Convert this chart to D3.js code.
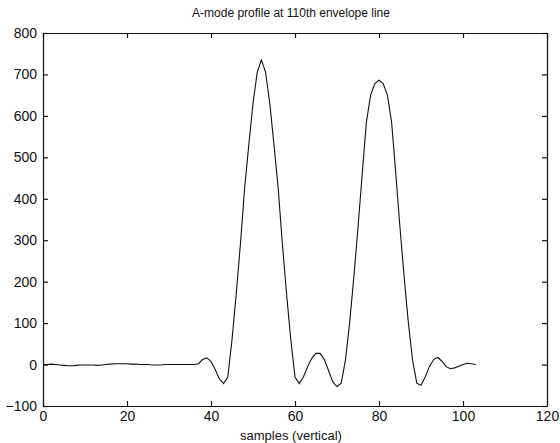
<!DOCTYPE html>
<html>
<head>
<meta charset="utf-8">
<script src="https://cdn.jsdelivr.net/npm/d3@7/dist/d3.min.js"></script>
<style>
  html, body { margin: 0; padding: 0; background: #fff; }
  svg { display: block; }
  text { font-family: "Liberation Sans", Arial, sans-serif; fill: #111; }
</style>
</head>
<body>
<svg id="chart" width="560" height="443"></svg>
<script>
const titleText = "A-mode profile at 110th envelope line";
const xLabelText = "samples (vertical)";
const xTicks = [0, 20, 40, 60, 80, 100, 120];
const yTicks = [-100, 0, 100, 200, 300, 400, 500, 600, 700, 800];
const sampleIndex = d3.range(0, 104);
const amplitude = [
  0, 0, 1, 0, -1, -2, -3, -3, -2, -1,
  -1, -1, -1, -2, -1, 0, 1, 2, 2, 2,
  2, 1, 1, 0, 0, 0, -1, -1, -1, 0,
  0, 0, 0, 0, 0, 0, 0, 2, 12, 16,
  8, -12, -35, -46, -30, 60, 170, 290, 425, 530,
  630, 705, 735, 705, 630, 530, 425, 290, 170, 60,
  -30, -46, -30, -5, 15, 27, 27, 12, -15, -42,
  -53, -45, 10, 100, 210, 330, 460, 585, 650, 678,
  686, 678, 650, 585, 460, 330, 210, 100, 10, -45,
  -50, -30, -5, 12, 17, 8, -5, -10, -8, -4,
  0, 3, 2, 0
];

const svg = d3.select("#chart");
const m = { left: 43, right: 547, top: 33, bottom: 406 };
const x = d3.scaleLinear().domain([0, 120]).range([m.left, m.right]);
const y = d3.scaleLinear().domain([-100, 800]).range([m.bottom, m.top]);

// curve
const line = d3.line().x((d, i) => x(sampleIndex[i])).y(d => y(d));
svg.append("path")
  .datum(amplitude)
  .attr("d", line)
  .attr("fill", "none")
  .attr("stroke", "#111")
  .attr("stroke-width", 1.1);

// axes (ticks inward, box)
const tickLen = 5;
const gB = svg.append("g").attr("transform", `translate(0,${m.bottom})`)
  .call(d3.axisBottom(x).tickValues(xTicks).tickSizeInner(-tickLen).tickSizeOuter(0).tickPadding(5));
const gT = svg.append("g").attr("transform", `translate(0,${m.top})`)
  .call(d3.axisTop(x).tickValues(xTicks).tickSizeInner(-tickLen).tickSizeOuter(0).tickFormat(""));
const gL = svg.append("g").attr("transform", `translate(${m.left},0)`)
  .call(d3.axisLeft(y).tickValues(yTicks).tickSizeInner(-tickLen).tickSizeOuter(0).tickPadding(6));
const gR = svg.append("g").attr("transform", `translate(${m.right},0)`)
  .call(d3.axisRight(y).tickValues(yTicks).tickSizeInner(-tickLen).tickSizeOuter(0).tickFormat(""));

[gB, gT, gL, gR].forEach(g => {
  g.selectAll("path.domain").attr("stroke", "#111").attr("stroke-width", 1.2);
  g.selectAll(".tick line").attr("stroke", "#111").attr("stroke-width", 1.2);
  g.selectAll(".tick text").style("font-size", "14px").attr("fill", "#111")
    .style("font-family", "'Liberation Sans', Arial, sans-serif");
});

svg.append("text")
  .attr("x", (m.left + m.right) / 2 - 4)
  .attr("y", 17)
  .attr("text-anchor", "middle")
  .style("font-size", "12px")
  .text(titleText);

svg.append("text")
  .attr("x", (m.left + m.right) / 2 - 4)
  .attr("y", 440)
  .attr("text-anchor", "middle")
  .style("font-size", "13px")
  .text(xLabelText);
</script>
</body>
</html>
